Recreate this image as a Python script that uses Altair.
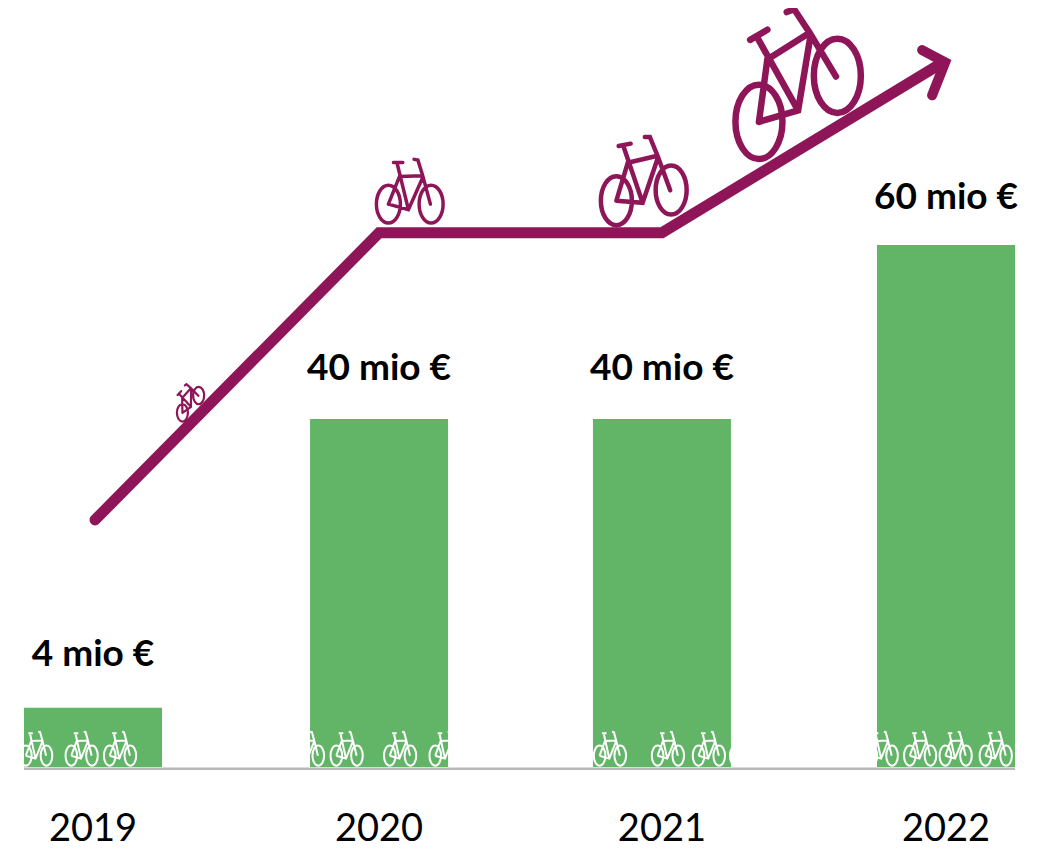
import math
import altair as alt
import pandas as pd

# Bars (values in million euro as drawn; the 2019 bar is drawn taller than 4)
bar_x = [2019.0, 2020.006, 2021.001, 2022.0]
years = ["2019", "2020", "2021", "2022"]
bar_heights = [6.8, 40, 40, 60]
labels = ["4 mio €", "40 mio €", "40 mio €", "60 mio €"]
label_y = [12.9, 45.8, 45.8, 65.4]
year_y = [-7.24, -7.24, -7.24, -7.24]
BAR_HALF = 0.2427

# Trend line
trend_x = [2019.007, 2020.006, 2021.001, 2021.99]
trend_y = [28.4, 61.4, 61.4, 81.0]
head_x = [2021.916, 2021.997, 2021.951]
head_y = [82.4, 81.0, 77.2]

# Purple bikes: position, rotation (degrees, counter-clockwise), wheel radius
bike_x = [2019.343, 2020.114, 2020.937, 2021.48]
bike_y = [41.7, 64.7, 65.7, 76.8]
bike_rot = [34, 0, 7, 20.4]
bike_r = [5.5, 12, 15.5, 23.5]
bike_sw = [2.2, 3.5, 4.5, 6.5]

# White bikes along the bottom of the bars
white_x = [2018.80, 2018.96, 2019.095, 2019.756, 2019.892, 2020.08, 2020.24,
           2020.818, 2021.022, 2021.166, 2021.297, 2021.774, 2021.909, 2022.034, 2022.175]
white_y = [1.3] * len(white_x)

PURPLE = "#8e1557"
GREEN = "#62b567"
FONT = "Lato, sans-serif"


def bike_path(rot, stretch):
    """SVG path of a bike with unit-radius wheels, rotated then stretched vertically."""
    a = math.radians(rot)

    def p(u, v):
        x = u * math.cos(a) + v * math.sin(a)
        y = -u * math.sin(a) + v * math.cos(a)
        return f"{x:.3f} {y * stretch:.3f}"

    segs = [
        [(-1.78, 0), (-0.11, 0.29), (1.08, -1.4)],
        [(-1.78, 0), (-0.86, -1.45)],
        [(-0.86, -1.45), (1.08, -1.5)],
        [(-1.03, -2.09), (-0.11, 0.29)],
        [(-1.36, -2.2), (-0.58, -2.2)],
        [(0.36, -2.36), (0.68, -2.32), (1.08, -1.5), (1.72, 0)],
    ]
    d = ""
    for s in segs:
        d += "M" + " L".join(p(*q) for q in s) + " "
    for u in (-1.78, 1.78):
        cx = u * math.cos(a)
        cy = -u * math.sin(a) * stretch
        d += (f"M{cx - 1:.3f} {cy:.3f} A1 {stretch} 0 1 0 {cx + 1:.3f} {cy:.3f} "
              f"A1 {stretch} 0 1 0 {cx - 1:.3f} {cy:.3f} ")
    return d


X = alt.Scale(domain=[2018.701, 2022.306], nice=False, zero=False)
Y = alt.Scale(domain=[-9.54, 87.24], nice=False, zero=False)
x_ = lambda f: alt.X(f, type="quantitative", scale=X, axis=None)
y_ = lambda f: alt.Y(f, type="quantitative", scale=Y, axis=None)

bars_df = pd.DataFrame({
    "x": bar_x,
    "x0": [v - BAR_HALF for v in bar_x],
    "x1": [v + BAR_HALF for v in bar_x],
    "h": bar_heights,
    "y0": [0] * 4,
    "label": labels,
    "ly": label_y,
    "year": years,
    "yy": year_y,
})

bars = alt.Chart(bars_df).mark_rect(color=GREEN).encode(
    x=x_("x0"), x2="x1", y=y_("y0"), y2="h")

white = alt.Chart(pd.DataFrame({"x": white_x, "y": white_y})).mark_point(
    shape=bike_path(0, 1.75), size=(2 * 5.8) ** 2, filled=False, stroke="white",
    strokeWidth=2, opacity=1).encode(x=x_("x"), y=y_("y"))

base_rule = alt.Chart(pd.DataFrame({"a": [bar_x[0] - BAR_HALF], "b": [bar_x[-1] + BAR_HALF], "y": [-0.2]})).mark_rule(
    color="#b9b9b9", strokeWidth=2.5).encode(x=x_("a"), x2="b", y=y_("y"))

trend = alt.Chart(pd.DataFrame({"x": trend_x, "y": trend_y, "o": range(4)})).mark_line(
    color=PURPLE, strokeWidth=11, strokeCap="round", strokeJoin="miter").encode(
    x=x_("x"), y=y_("y"), order="o")

head = alt.Chart(pd.DataFrame({"x": head_x, "y": head_y, "o": range(3)})).mark_line(
    color=PURPLE, strokeWidth=10, strokeCap="round", strokeJoin="miter").encode(
    x=x_("x"), y=y_("y"), order="o")

bike_layers = [
    alt.Chart(pd.DataFrame({"x": [bx], "y": [by]})).mark_point(
        shape=bike_path(rot, 1.58), size=(2 * r) ** 2, filled=False, stroke=PURPLE,
        strokeWidth=sw, strokeCap="round", opacity=1).encode(x=x_("x"), y=y_("y"))
    for bx, by, rot, r, sw in zip(bike_x, bike_y, bike_rot, bike_r, bike_sw)
]

value_text = alt.Chart(bars_df).mark_text(
    font=FONT, fontSize=37, fontWeight="bold", color="black", baseline="middle", align="center").encode(
    x=x_("x"), y=y_("ly"), text="label")

year_text = alt.Chart(bars_df).mark_text(
    font=FONT, fontSize=38, color="black", baseline="middle", align="center").encode(
    x=x_("x"), y=y_("yy"), text="year")

chart = alt.layer(bars, white, base_rule, trend, head, *bike_layers, value_text, year_text).properties(
    width=1025, height=842, padding=0,
    autosize=alt.AutoSizeParams(type="none"),
    background="white",
).configure_view(stroke=None)

chart.save("out.html", embed_options={"renderer": "svg", "actions": False})
